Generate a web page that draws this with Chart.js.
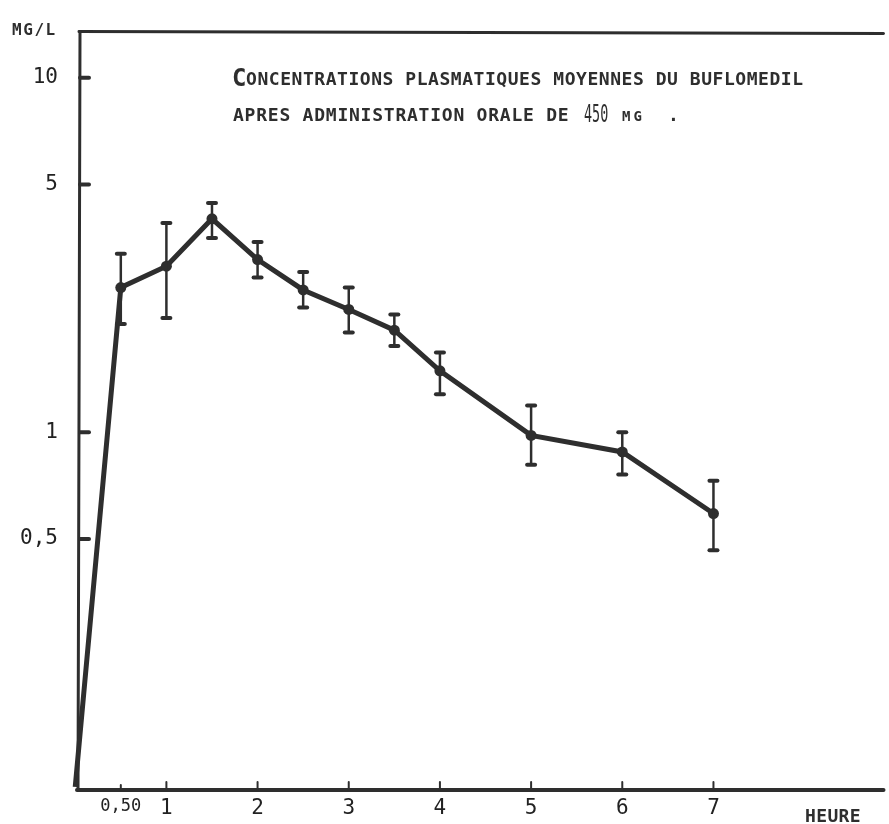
<!DOCTYPE html>
<html><head><meta charset="utf-8">
<script src="https://cdn.jsdelivr.net/npm/chart.js@4.4.1/dist/chart.umd.min.js"></script>
<style>html,body{margin:0;padding:0;background:#fff}#wrap{width:889px;height:824px;position:relative}</style>
</head><body><div id="wrap"><canvas id="c"></canvas></div>
<script>
// ---- data ----
const hours    = [0, 0.5, 1, 1.5, 2, 2.5, 3, 3.5, 4, 5, 6, 7];
const meanConc = [0.1, 2.56, 2.94, 4.0, 3.07, 2.52, 2.22, 1.94, 1.49, 0.98, 0.88, 0.59];
const errHigh  = [null, 3.19, 3.89, 4.43, 3.44, 2.83, 2.56, 2.15, 1.68, 1.19, 1.0, 0.73];
const errLow   = [null, 2.02, 2.10, 3.53, 2.73, 2.25, 1.91, 1.75, 1.28, 0.81, 0.76, 0.465];
const xTickValues = [0.5, 1, 2, 3, 4, 5, 6, 7];
const xTickLabels = ['0,50', '1', '2', '3', '4', '5', '6', '7'];
const yTickValues = [0.5, 1, 5, 10];
const yTickLabels = ['0,5', '1', '5', '10'];
const yUnit = 'MG/L';
const xUnit = 'HEURE';
const titleFirst = 'C';
const titleLine1 = 'ONCENTRATIONS PLASMATIQUES MOYENNES DU BUFLOMEDIL';
const titleLine2a = 'APRES ADMINISTRATION ORALE DE';
const titleLine2b = '450';
const titleLine2c = 'MG';
const titleLine2d = '.';

const INK = '#2e2e2e';
const MONO = "'DejaVu Sans Mono'";

function spaced(ctx, text, x, y, step) {
  for (let i = 0; i < text.length; i++) ctx.fillText(text[i], x + i * step, y);
}

const decor = {
  id: 'decor',
  beforeDatasetsDraw(chart) {
    const {ctx, chartArea: a, scales} = chart;
    const xs = scales.x, ys = scales.y;
    ctx.save();
    ctx.strokeStyle = INK;
    ctx.lineCap = 'round';
    ctx.lineWidth = 3;
    ctx.beginPath(); ctx.moveTo(a.left + 1, a.top - 1); ctx.lineTo(a.right, a.top + 1); ctx.stroke();
    ctx.lineWidth = 3;
    ctx.beginPath(); ctx.moveTo(a.left + 2, a.top - 1); ctx.lineTo(a.left, a.bottom); ctx.stroke();
    ctx.lineWidth = 4;
    ctx.beginPath(); ctx.moveTo(a.left - 1, a.bottom); ctx.lineTo(a.right, a.bottom); ctx.stroke();
    ctx.lineWidth = 4;
    yTickValues.forEach(v => {
      const py = ys.getPixelForValue(v);
      ctx.beginPath(); ctx.moveTo(a.left + 2, py); ctx.lineTo(a.left + 11, py); ctx.stroke();
    });
    ctx.lineWidth = 2;
    xTickValues.forEach(v => {
      const px = xs.getPixelForValue(v);
      ctx.beginPath(); ctx.moveTo(px, a.bottom); ctx.lineTo(px, a.bottom - (v < 1 ? 5 : 8)); ctx.stroke();
    });
    ctx.restore();
  },
  afterDatasetsDraw(chart) {
    const {ctx, scales} = chart;
    const xs = scales.x, ys = scales.y;
    ctx.save();
    ctx.strokeStyle = INK;
    hours.forEach((h, i) => {
      if (errHigh[i] == null) return;
      const px = xs.getPixelForValue(h);
      const pt = ys.getPixelForValue(errHigh[i]);
      const pb = ys.getPixelForValue(errLow[i]);
      ctx.lineWidth = 2.5; ctx.lineCap = 'butt';
      ctx.beginPath(); ctx.moveTo(px, pt); ctx.lineTo(px, pb); ctx.stroke();
      ctx.lineWidth = 4; ctx.lineCap = 'round';
      [pt, pb].forEach(p => { ctx.beginPath(); ctx.moveTo(px - 4, p); ctx.lineTo(px + 4, p); ctx.stroke(); });
    });
    ctx.restore();
  },
  afterDraw(chart) {
    const {ctx} = chart;
    ctx.save();
    ctx.fillStyle = INK;
    ctx.textBaseline = 'alphabetic';
    ctx.textAlign = 'left';
    ctx.font = 'bold 16px ' + MONO;
    spaced(ctx, yUnit, 12, 35, 11.2);
    ctx.font = 'bold 18px ' + MONO;
    spaced(ctx, xUnit, 805, 822, 11.2);
    ctx.font = 'bold 24px ' + MONO;
    ctx.fillText(titleFirst, 232, 86);
    ctx.font = 'bold 18px ' + MONO;
    spaced(ctx, titleLine1, 246, 85, 11.38);
    spaced(ctx, titleLine2a, 233, 121, 11.6);
    // taller, narrow "450"
    ctx.save();
    ctx.translate(584, 122);
    ctx.scale(0.56, 1);
    ctx.font = '24px ' + MONO;
    ctx.fillText(titleLine2b, 0, 0);
    ctx.restore();
    ctx.font = 'bold 14px ' + MONO;
    spaced(ctx, titleLine2c, 622, 121, 11.5);
    ctx.font = 'bold 18px ' + MONO;
    ctx.fillText(titleLine2d, 668, 121);
    ctx.restore();
  }
};

new Chart(document.getElementById('c'), {
  type: 'line',
  data: {
    datasets: [{
      data: hours.map((h, i) => ({x: h, y: meanConc[i]})),
      borderColor: INK,
      borderWidth: 5,
      backgroundColor: INK,
      pointRadius: ctx => ctx.dataIndex === 0 ? 0 : 5.5,
      pointBorderWidth: 0,
      tension: 0,
      clip: false
    }]
  },
  options: {
    responsive: true,
    maintainAspectRatio: false,
    animation: false,
    layout: {padding: {left: 0, right: 0, top: 31, bottom: 0}},
    plugins: {legend: {display: false}, tooltip: {enabled: false}, title: {display: false}},
    scales: {
      x: {
        type: 'linear', min: 0.0305, max: 8.865,
        afterBuildTicks: s => { s.ticks = xTickValues.map(v => ({value: v})); },
        afterFit: s => { s.height = 34; },
        grid: {display: false, drawTicks: false},
        border: {display: false},
        ticks: {
          autoSkip: false, maxRotation: 0, padding: 6,
          color: '#222',
          font: c => ({family: 'DejaVu Sans Mono', size: (c.tick && c.tick.value < 1) ? 17 : 21}),
          callback: v => { const k = xTickValues.indexOf(v); return k < 0 ? '' : xTickLabels[k]; }
        }
      },
      y: {
        type: 'logarithmic', min: 0.098, max: 13.4,
        afterBuildTicks: s => { s.ticks = yTickValues.map(v => ({value: v})); },
        afterFit: s => { s.width = 78; },
        grid: {display: false, drawTicks: false},
        border: {display: false},
        ticks: {
          autoSkip: false, padding: 20,
          color: '#222', font: {family: 'DejaVu Sans Mono', size: 21},
          callback: v => { const k = yTickValues.indexOf(v); return k < 0 ? '' : yTickLabels[k]; }
        }
      }
    }
  },
  plugins: [decor]
});
</script>
</body></html>
